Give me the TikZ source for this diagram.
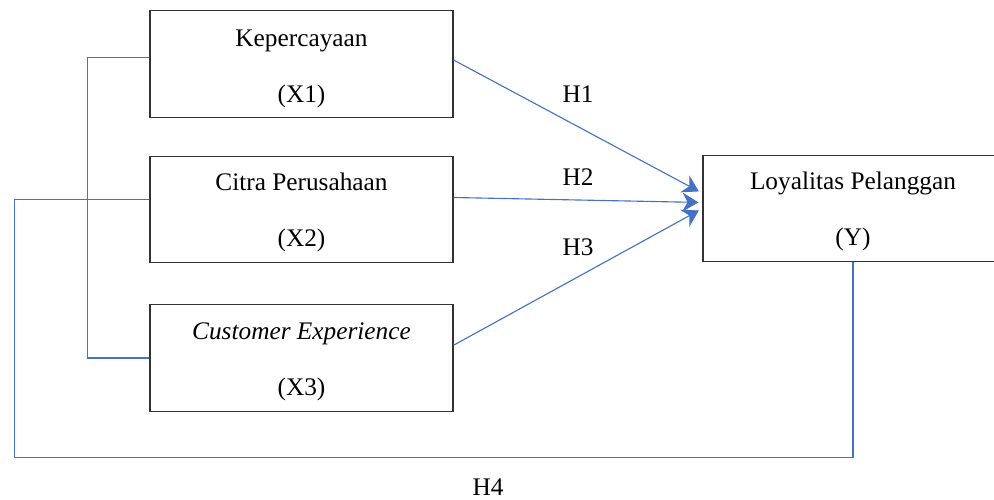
\documentclass[tikz,border=0pt]{standalone}
\usepackage{fontspec}
\setmainfont{Liberation Serif}
\usetikzlibrary{arrows.meta,positioning}
\definecolor{linkblue}{HTML}{4472C4}

\begin{document}
\begin{tikzpicture}[x=0.025cm, y=-0.025cm,
  var/.style={draw=black!80, line width=0.8pt, align=center, minimum width=7.575cm, minimum height=2.66cm, font=\fontsize{18}{40}\selectfont},
  hyp/.style={font=\fontsize{18}{22}\selectfont},
  link/.style={draw=linkblue, line width=0.8pt},
  arr/.style={link, -{Stealth[length=0.4cm,width=0.48cm,fill=linkblue]}, shorten >=0.1cm}]
  \useasboundingbox (0,0) rectangle (994,500);
  \node[var] (x1) at (301.5,64) {\rule{0pt}{19pt}Kepercayaan\\(X1)};
  \node[var] (x2) at (301.5,209.5) {\rule{0pt}{17pt}Citra Perusahaan\\(X2)};
  \node[var] (x3) at (301.5,358) {\rule{0pt}{17pt}\textit{Customer Experience}\\(X3)};
  \node[var, minimum width=7.5cm] (y) at (853,208.5) {\rule{0pt}{17pt}Loyalitas Pelanggan\\(Y)};
  \node[hyp] (h1) at (578,94) {H1};
  \node[hyp] (h2) at (578,177) {H2};
  \node[hyp] (h3) at (578,247) {H3};
  \node[hyp] (h4) at (488,487) {H4};
  \draw[arr] ([yshift=0.1cm]x1.east) -- ([yshift=0.38cm]y.west);
  \draw[arr] ([yshift=0.3cm]x2.east) -- ([yshift=0.15cm]y.west);
  \draw[arr] ([yshift=0.32cm]x3.east) -- ([yshift=0cm]y.west);
  % correlation between X1 and X3
  \draw[link] ([yshift=0.17cm]x1.west) -- ++(-62,0) |- (x3.west);
  % H4
  \draw[link] ([yshift=0.26cm]x2.west) -- ++(-135,0) -- ++(0,258) -| (y.south);
\end{tikzpicture}
\end{document}
